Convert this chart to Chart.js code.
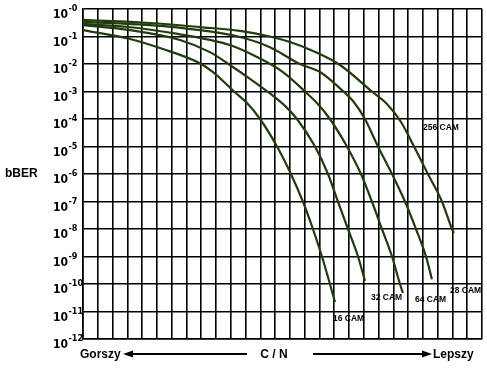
<!DOCTYPE html>
<html>
<head>
<meta charset="utf-8">
<script src="https://cdn.jsdelivr.net/npm/chart.js@4/dist/chart.umd.min.js"></script>
<style>
  html, body { margin: 0; padding: 0; background: #fff; }
  #wrap { width: 487px; height: 376px; }
</style>
</head>
<body>
<div id="wrap"><canvas id="berChart" width="487" height="376"></canvas></div>
<script>
/* ================= DATA ================= */

// C/N axis has no numbers, just 27 grid steps
const cnMin = 0;
const cnMax = 27;

// decade ticks on the bBER axis
const yTicks = [1, 1e-1, 1e-2, 1e-3, 1e-4, 1e-5, 1e-6, 1e-7, 1e-8, 1e-9, 1e-10, 1e-11, 1e-12];
const yTickExp = ["-0", "-1", "-2", "-3", "-4", "-5", "-6", "-7", "-8", "-9", "-10", "-11", "-12"];

const curveNames = ["16 CAM", "32 CAM", "64 CAM", "28 CAM", "256 CAM"];

const cn16 = [0, 3.18, 5.41, 7.71, 8.80, 10.22, 11.10, 11.98, 13.13, 14.07, 14.88, 15.56, 16.17, 16.71, 17.05];
const ber16 = [1.7e-1, 8.1e-2, 3.5e-2, 1.2e-2, 5.1e-3, 1e-3, 3.8e-4, 1e-4, 1e-5, 1e-6, 1e-7, 1e-8, 1e-9, 1e-10, 2.2e-11];

const cn32 = [0, 3.18, 6.56, 8.59, 9.94, 11.30, 12.65, 13.67, 14.48, 15.70, 16.58, 17.25, 17.93, 18.61, 19.08];
const ber32 = [2.6e-1, 1.7e-1, 7.5e-2, 2.7e-2, 9.2e-3, 2.9e-3, 8.5e-4, 3.0e-4, 1e-4, 1e-5, 1e-6, 1e-7, 1e-8, 1e-9, 1.3e-10];

const cn64 = [0, 3.86, 6.56, 8.59, 9.94, 11.77, 13.53, 15.02, 15.83, 16.71, 17.86, 18.81, 19.55, 20.23, 20.91, 21.45, 21.65];
const ber64 = [2.9e-1, 2.0e-1, 1.2e-1, 7.5e-2, 4.9e-2, 1.8e-2, 5.1e-3, 1e-3, 3.8e-4, 1e-4, 1e-5, 1e-6, 1e-7, 1e-8, 1e-9, 1e-10, 4.7e-11];

const cn128 = [0, 4.53, 7.92, 10.62, 12.65, 14.68, 16.04, 17.39, 18.27, 19.08, 19.96, 20.91, 21.79, 22.53, 23.21, 23.61];
const ber128 = [3.4e-1, 2.6e-1, 1.7e-1, 9.6e-2, 4.1e-2, 1e-2, 5.1e-3, 1.3e-3, 4.5e-4, 1e-4, 1e-5, 1e-6, 1e-7, 1e-8, 1e-9, 1.5e-10];

const cn256 = [0, 4.53, 7.92, 10.62, 12.65, 14.01, 15.56, 17.39, 19.55, 20.57, 21.52, 22.40, 23.34, 24.29, 24.97, 25.10];
const ber256 = [4.0e-1, 3.1e-1, 2.2e-1, 1.6e-1, 1.0e-1, 6.3e-2, 3.0e-2, 9.2e-3, 1e-3, 3.5e-4, 7.8e-5, 1e-5, 1e-6, 1e-7, 1e-8, 7.2e-9];

/* ================= LAYOUT ================= */

const curveColor = "#213d0d";
// where the curve names sit (left x, middle y), pixels
const namePos = [[333, 319], [371, 298], [415, 300], [450, 291], [423, 128]];

const pairs = (xs, ys) => xs.map((x, i) => ({ x: x, y: ys[i] }));
const seriesX = [cn16, cn32, cn64, cn128, cn256];
const seriesY = [ber16, ber32, ber64, ber128, ber256];

const datasets = seriesX.map((xs, i) => ({
  label: curveNames[i],
  data: pairs(xs, seriesY[i]),
  borderColor: curveColor,
  borderWidth: 2.2,
  pointRadius: 0,
  cubicInterpolationMode: "monotone",
  fill: false
}));

/* ================= TEXT PLUGIN ================= */

const narrow = "'Liberation Sans Narrow', 'DejaVu Sans Condensed', 'Arial Narrow', sans-serif";
const sans = "'Liberation Sans', Arial, sans-serif";

function arrow(ctx, x1, x2, y, dir) {
  ctx.beginPath();
  ctx.lineWidth = 2;
  ctx.moveTo(x1, y);
  ctx.lineTo(x2, y);
  ctx.stroke();
  const tip = dir < 0 ? x1 - 9 : x2 + 9;
  const base = dir < 0 ? x1 + 1 : x2 - 1;
  ctx.beginPath();
  ctx.moveTo(tip, y);
  ctx.lineTo(base, y - 3.5);
  ctx.lineTo(base, y + 3.5);
  ctx.closePath();
  ctx.fill();
}

const textPlugin = {
  id: "textPlugin",
  afterDraw(chart) {
    const ctx = chart.ctx;
    const ys = chart.scales.y;
    ctx.save();
    ctx.fillStyle = "#000";
    ctx.strokeStyle = "#000";

    // 10^-n labels
    yTicks.forEach((v, i) => {
      const y = ys.getPixelForValue(v);
      ctx.font = "bold 12px " + narrow;
      ctx.textAlign = "right";
      ctx.textBaseline = "alphabetic";
      ctx.fillText("10", 68, y + 9);
      ctx.font = "bold 9px " + narrow;
      ctx.textAlign = "left";
      ctx.fillText(yTickExp[i], 68.5, y + 2);
    });

    // axis names
    ctx.font = "bold 12px " + sans;
    ctx.textAlign = "left";
    ctx.fillText("bBER", 5, 177);
    ctx.fillText("Gorszy", 80, 358);
    ctx.fillText("Lepszy", 433, 358);
    ctx.textAlign = "center";
    ctx.fillText("C / N", 274, 358);

    arrow(ctx, 132, 247, 354, -1);
    arrow(ctx, 313, 423, 354, 1);

    // curve names
    ctx.font = "bold 8.5px " + sans;
    ctx.textAlign = "left";
    ctx.textBaseline = "middle";
    curveNames.forEach((n, i) => {
      ctx.fillText(n, namePos[i][0], namePos[i][1]);
    });
    ctx.restore();
  }
};

/* ================= CHART ================= */

new Chart(document.getElementById("berChart"), {
  type: "line",
  data: { datasets: datasets },
  options: {
    responsive: false,
    animation: false,
    layout: { padding: { left: 83, right: 5, top: 9, bottom: 37 } },
    plugins: {
      legend: { display: false },
      tooltip: { enabled: false }
    },
    scales: {
      x: {
        type: "linear",
        min: cnMin,
        max: cnMax,
        ticks: { display: false, stepSize: 1 },
        grid: { color: "#000", lineWidth: 1.6, drawTicks: false },
        border: { color: "#000", width: 1.6 }
      },
      y: {
        type: "logarithmic",
        min: 1e-12,
        max: 1,
        afterBuildTicks: (scale) => {
          scale.ticks = yTicks.map(v => ({ value: v }));
        },
        ticks: { display: false },
        grid: { color: "#000", lineWidth: 1.6, drawTicks: false },
        border: { color: "#000", width: 1.6 }
      }
    }
  },
  plugins: [textPlugin]
});
</script>
</body>
</html>
